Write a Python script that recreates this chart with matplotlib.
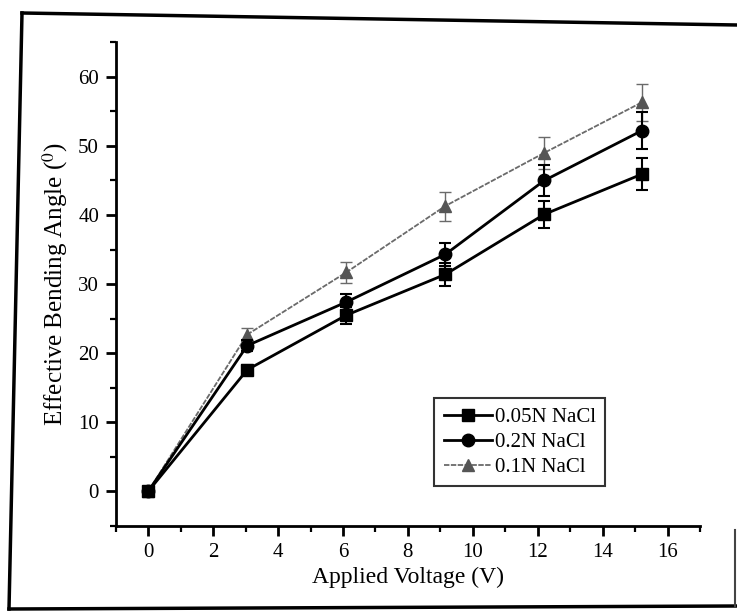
import matplotlib
matplotlib.use("Agg")
import matplotlib.pyplot as plt
from matplotlib.lines import Line2D
from matplotlib.ticker import MultipleLocator

plt.rcParams["font.family"] = ["Liberation Serif", "DejaVu Serif"]
plt.rcParams["mathtext.fontset"] = "stix"

voltage = [0, 3.05, 6.1, 9.15, 12.2, 15.2]

angle_005 = [0, 17.6, 25.5, 31.4, 40.1, 45.9]
err_005 = [0, 0.7, 1.2, 1.6, 2.0, 2.3]

angle_02 = [0, 21.1, 27.4, 34.3, 45.0, 52.2]
err_02 = [0, 0.8, 1.2, 1.7, 2.3, 2.7]

angle_01 = [0, 22.7, 31.7, 41.3, 49.0, 56.3]
err_01 = [0, 1.0, 1.5, 2.1, 2.3, 2.7]

labels = ["0.05N NaCl", "0.2N NaCl", "0.1N NaCl"]

fig = plt.figure(figsize=(7.37, 6.13), dpi=100)
ax = fig.add_axes([0.157, 0.142, 0.793, 0.789])

grey_style = dict(color="#6a6a6a", lw=1.3, ls=(0, (3, 0.8)), marker="^", ms=9,
                  mfc="#555555", mec="#555555")
circ_style = dict(color="black", lw=2.0, marker="o", ms=9)
sq_style = dict(color="black", lw=2.0, marker="s", ms=8)

ax.errorbar(voltage, angle_01, yerr=err_01, ecolor="#6a6a6a", elinewidth=1.0,
            capsize=4, capthick=1.0, zorder=2, **grey_style)
ax.errorbar(voltage, angle_02, yerr=err_02, ecolor="black", elinewidth=1.5,
            capsize=4, capthick=1.5, zorder=3, **circ_style)
ax.errorbar(voltage, angle_005, yerr=err_005, ecolor="black", elinewidth=1.5,
            capsize=4, capthick=1.5, zorder=4, **sq_style)

ax.set_xlim(-1, 17)
ax.set_ylim(-5, 65)
ax.xaxis.set_major_locator(MultipleLocator(2))
ax.xaxis.set_minor_locator(MultipleLocator(1))
ax.yaxis.set_major_locator(MultipleLocator(10))
ax.yaxis.set_minor_locator(MultipleLocator(5))

for s in ("top", "right"):
    ax.spines[s].set_visible(False)
for s in ("left", "bottom"):
    ax.spines[s].set_linewidth(2.0)

ax.tick_params(which="major", direction="out", length=7, width=2, labelsize=15,
               pad=5)
ax.tick_params(which="minor", direction="out", length=4, width=1.6)

ax.set_xlabel("Applied Voltage (V)", fontsize=17, labelpad=4)
ax.set_ylabel("Effective Bending Angle ($^{0}$)", fontsize=18, labelpad=6)

handles = [Line2D([], [], **sq_style), Line2D([], [], **circ_style),
           Line2D([], [], **grey_style)]
leg = ax.legend(handles, labels, loc="lower left",
                bbox_to_anchor=(0.545, 0.082), fontsize=15,
                frameon=True, fancybox=False, edgecolor="black",
                handlelength=2.3, handletextpad=0.15, borderpad=0.45,
                labelspacing=0.25, borderaxespad=0)
leg.get_frame().set_linewidth(1.5)

# outer frame around the figure panel
W, H = 737.0, 613.0
fig.add_artist(Line2D([22 / W, 737 / W], [1 - 13 / H, 1 - 25 / H],
                      transform=fig.transFigure, color="black", lw=2.5))
fig.add_artist(Line2D([22 / W, 9 / W], [1 - 13 / H, 1 - 609 / H],
                      transform=fig.transFigure, color="black", lw=2.5))
fig.add_artist(Line2D([9 / W, 737 / W], [1 - 609 / H, 1 - 606 / H],
                      transform=fig.transFigure, color="black", lw=2.5))
fig.add_artist(Line2D([735 / W, 735 / W], [1 - 530 / H, 1 - 606 / H],
                      transform=fig.transFigure, color="#444444", lw=1.5))

fig.savefig("out.png", dpi=100)
